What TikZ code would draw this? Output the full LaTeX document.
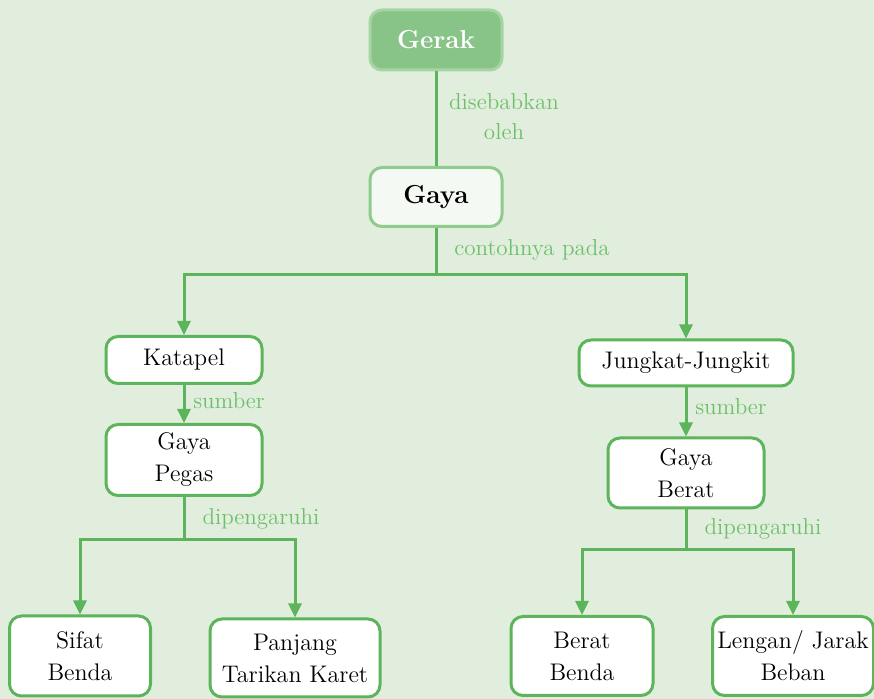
\documentclass[tikz,border=0pt]{standalone}
\usepackage{tikz}
\usetikzlibrary{arrows.meta,positioning}
\definecolor{bgGreen}{HTML}{E2EEDD}
\definecolor{lineGreen}{HTML}{5CB55A}
\definecolor{labelGreen}{HTML}{6DBF6A}
\definecolor{topFill}{HTML}{88C387}
\definecolor{topDraw}{HTML}{A6D4A3}
\definecolor{gayaFill}{HTML}{F5F9F3}
\definecolor{gayaDraw}{HTML}{8FCB8C}
\tikzset{
  concept node/.style={draw=lineGreen,line width=1.5pt,rounded corners=6pt,
    fill=white,align=center,inner sep=2pt,
    font=\fontsize{12}{16}\selectfont},
  top node/.style={concept node,draw=topDraw,fill=topFill,text=white,
    font=\fontsize{13}{16}\selectfont\bfseries},
  gaya node/.style={concept node,draw=gayaDraw,fill=gayaFill,
    font=\fontsize{13}{16}\selectfont\bfseries},
  link line/.style={draw=lineGreen,line width=1.5pt},
  link arrow/.style={link line,-{Triangle[length=7pt,width=6.5pt]}},
  link label/.style={text=labelGreen,align=center,inner sep=0pt,
    font=\fontsize{11.5}{15}\selectfont},
}

\begin{document}
\begin{tikzpicture}[x=0.5pt,y=-0.5pt]
  \fill[bgGreen] (0,0) rectangle (874,699);
  \useasboundingbox (0,0) rectangle (874,699);
  % top levels
  \node[top node,minimum width=66pt,minimum height=30pt] (gerak) at (436,40) {Gerak};
  \node[gaya node,minimum width=66pt,minimum height=29.5pt] (gaya) at (436,197) {Gaya};
  % examples
  \node[concept node,minimum width=78pt,minimum height=23.5pt] (katapel) at (184,360) {Katapel};
  \node[concept node,minimum width=107pt,minimum height=23pt] (jungkat) at (686,363) {Jungkat-Jungkit};
  \node[concept node,minimum width=78pt,minimum height=35.5pt] (pegas) at (184,460) {Gaya\\Pegas};
  \node[concept node,minimum width=78pt,minimum height=35pt] (berat) at (686,473) {Gaya\\Berat};
  % factors
  \node[concept node,minimum width=70.5pt,minimum height=40pt] (sifat) at (80,656) {Sifat\\Benda};
  \node[concept node,minimum width=85pt,minimum height=39pt] (panjang) at (295,658) {Panjang\\Tarikan Karet};
  \node[concept node,minimum width=71pt,minimum height=39.5pt] (beratbenda) at (582,656) {Berat\\Benda};
  \node[concept node,minimum width=80.5pt,minimum height=39.5pt] (lengan) at (793,656) {Lengan/ Jarak\\Beban};
  % branch points
  \coordinate (split gaya) at (436,275);
  \coordinate (split pegas) at (184,540);
  \coordinate (split berat) at (686,550);
  % connectors
  \draw[link line] (gerak) -- (gaya);
  \draw[link line] (gaya) -- (split gaya);
  \draw[link arrow] (split gaya) -| (katapel);
  \draw[link arrow] (split gaya) -| (jungkat);
  \draw[link arrow] (katapel) -- (pegas);
  \draw[link arrow] (jungkat) -- (berat);
  \draw[link line] (pegas) -- (split pegas);
  \draw[link arrow] (split pegas) -| (sifat);
  \draw[link arrow] (split pegas) -| (panjang);
  \draw[link line] (berat) -- (split berat);
  \draw[link arrow] (split berat) -| (beratbenda);
  \draw[link arrow] (split berat) -| (lengan);
  % labels
  \node[link label] (lbl cause) at (504,117) {disebabkan\\oleh};
  \node[link label] (lbl example) at (532,250) {contohnya pada};
  \node[link label] (lbl src left) at (229,401) {sumber};
  \node[link label] (lbl src right) at (731,407) {sumber};
  \node[link label] (lbl infl left) at (261,519) {dipengaruhi};
  \node[link label] (lbl infl right) at (763,529) {dipengaruhi};
\end{tikzpicture}
\end{document}
